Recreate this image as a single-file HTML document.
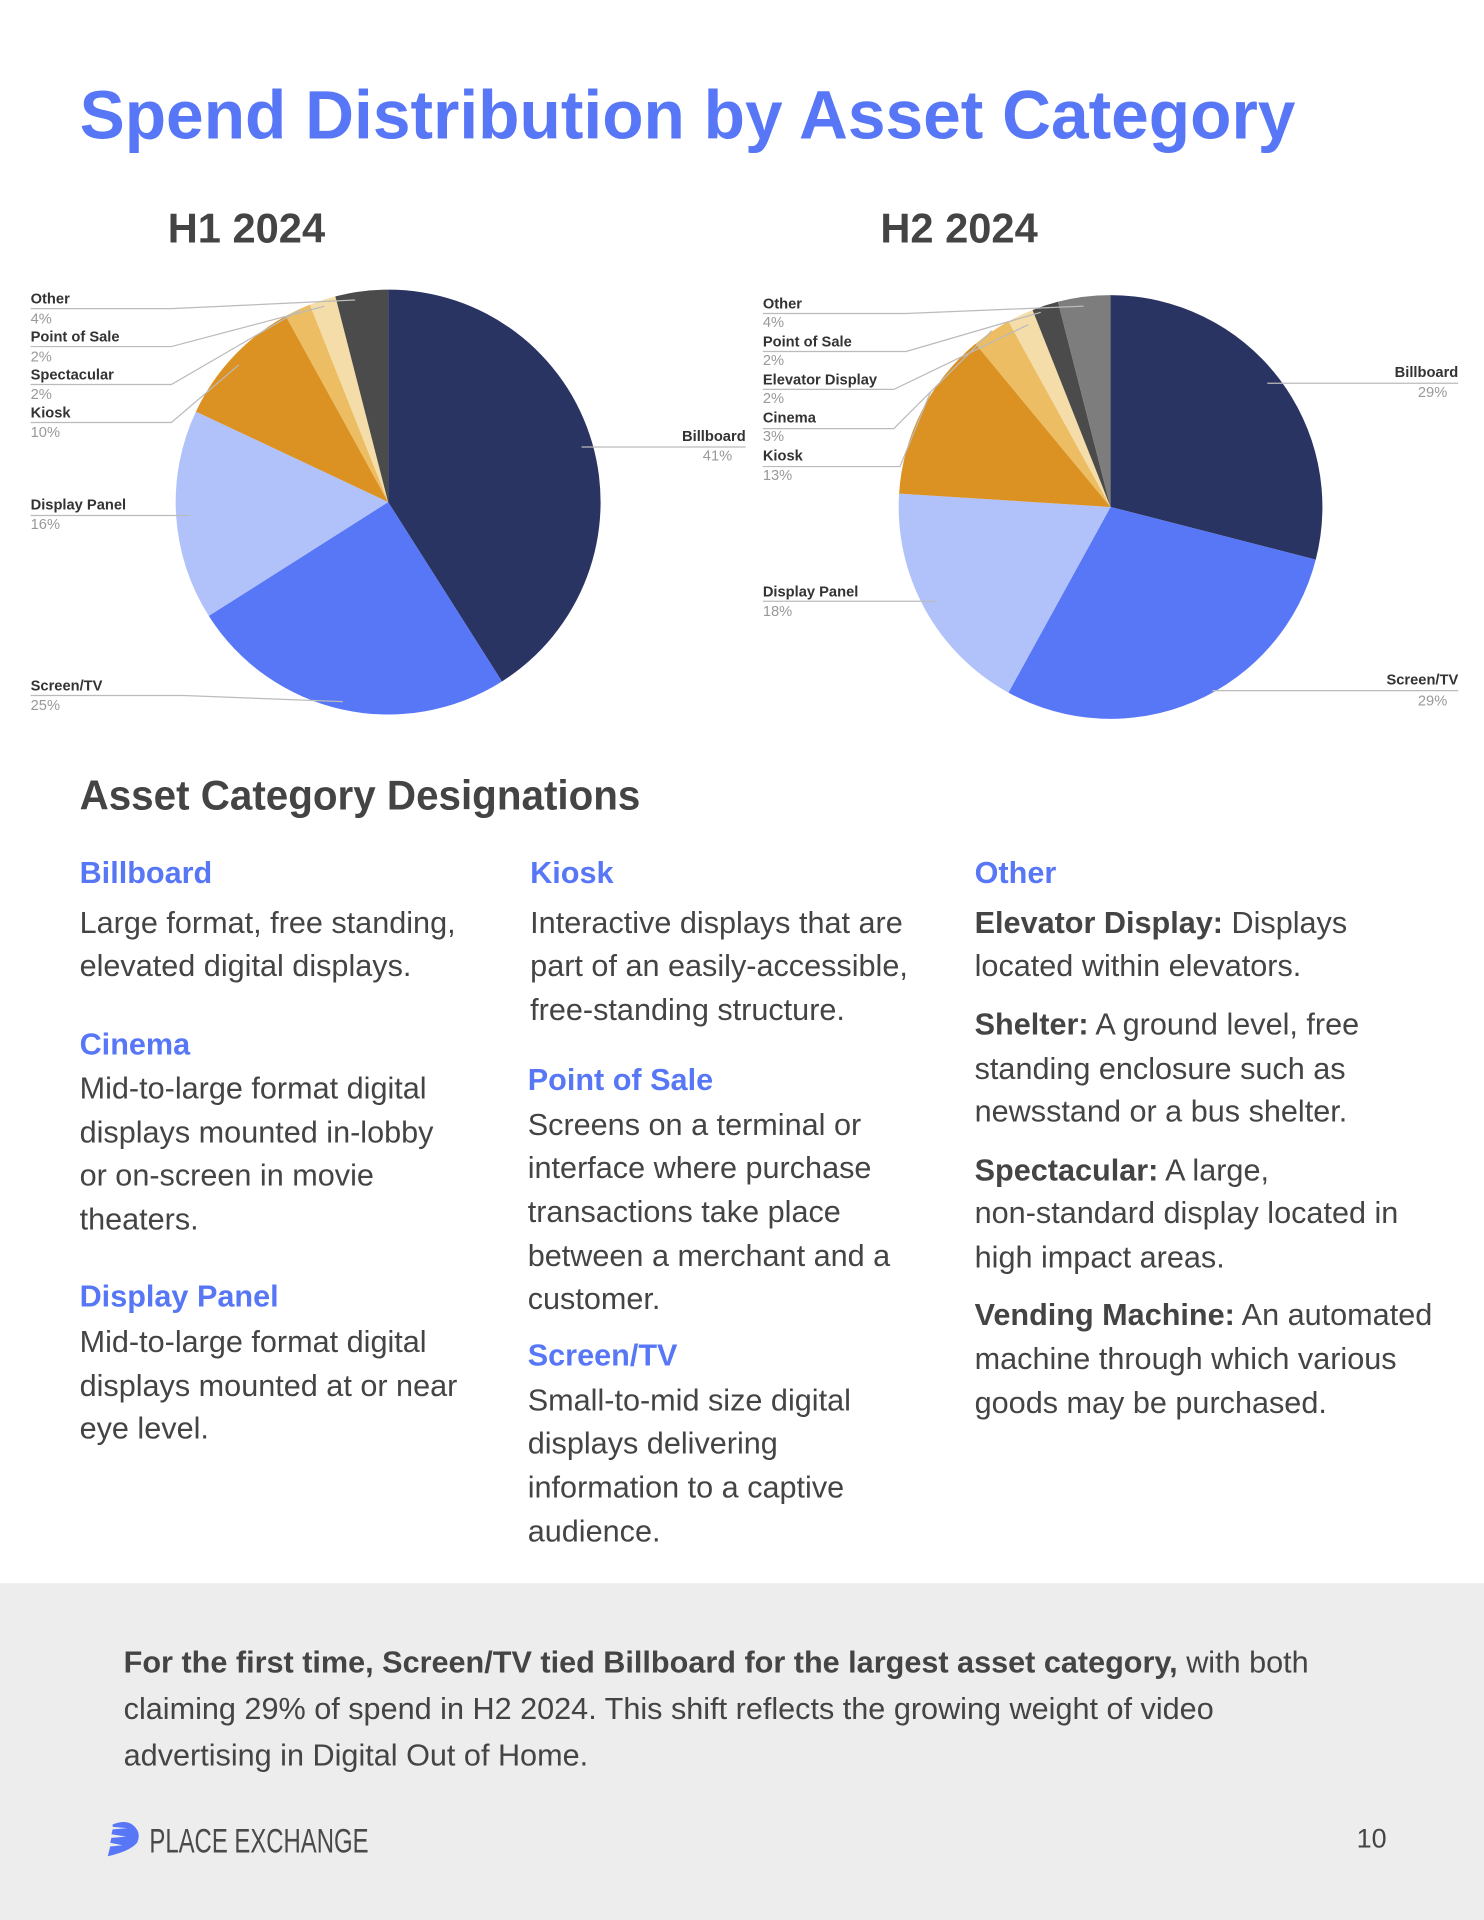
<!DOCTYPE html>
<html><head><meta charset="utf-8"><style>
html,body{margin:0;padding:0;background:#fff;}
svg{display:block;}
text{font-family:"Liberation Sans",sans-serif;}
.lb{font-size:12px;font-weight:bold;fill:#333;}
.pc{font-size:12px;fill:#999;}
.h{font-size:25px;font-weight:bold;fill:#5877F6;}
.b{font-size:25px;fill:#444;}
.bb{font-weight:bold;}
.ld{stroke:#bbb;stroke-width:1;fill:none;}
</style></head><body>
<svg width="1484" height="1920" viewBox="0 0 1212 1568" xmlns="http://www.w3.org/2000/svg">
<rect width="1212" height="1568" fill="#fff"/>
<text x="65" y="113" font-size="56" font-weight="bold" fill="#5877F6" textLength="993" lengthAdjust="spacingAndGlyphs">Spend Distribution by Asset Category</text>
<text x="137" y="198" font-size="34" font-weight="bold" fill="#444">H1 2024</text>
<text x="719" y="198" font-size="34" font-weight="bold" fill="#444">H2 2024</text>

<!-- H1 pie -->
<g>
<path d="M317 410 L317 236.5 A173.5 173.5 0 0 1 409.96 556.5 Z" fill="#293462"/>
<path d="M317 410 L409.96 556.5 A173.5 173.5 0 0 1 170.5 503 Z" fill="#5877F6"/>
<path d="M317 410 L170.5 503 A173.5 173.5 0 0 1 160 336.1 Z" fill="#B1C2FB"/>
<path d="M317 410 L160 336.1 A173.5 173.5 0 0 1 233.4 258 Z" fill="#DB9222"/>
<path d="M317 410 L233.4 258 A173.5 173.5 0 0 1 253.1 248.7 Z" fill="#ECBD63"/>
<path d="M317 410 L253.1 248.7 A173.5 173.5 0 0 1 273.9 242 Z" fill="#F5DDAA"/>
<path d="M317 410 L273.9 242 A173.5 173.5 0 0 1 317 236.5 Z" fill="#4B4B4B"/>
</g>
<path class="ld" d="M25 252 L140 252 L290 245"/>
<path class="ld" d="M25 283 L140 283 L265 250"/>
<path class="ld" d="M25 314 L140 314 L245 253"/>
<path class="ld" d="M25 345 L140 345 L195 298"/>
<path class="ld" d="M25 421 L155 421"/>
<path class="ld" d="M25 568 L150 568 L280 573"/>
<path class="ld" d="M475 365 L609 365"/>
<text class="lb" x="25" y="248">Other</text><text class="pc" x="25" y="264">4%</text>
<text class="lb" x="25" y="279">Point of Sale</text><text class="pc" x="25" y="295">2%</text>
<text class="lb" x="25" y="310">Spectacular</text><text class="pc" x="25" y="326">2%</text>
<text class="lb" x="25" y="341">Kiosk</text><text class="pc" x="25" y="357">10%</text>
<text class="lb" x="25" y="416">Display Panel</text><text class="pc" x="25" y="432">16%</text>
<text class="lb" x="25" y="564">Screen/TV</text><text class="pc" x="25" y="580">25%</text>
<text class="lb" x="609" y="360" text-anchor="end">Billboard</text><text class="pc" x="598" y="376" text-anchor="end">41%</text>

<!-- H2 pie -->
<g>
<path d="M907 414 L907 241 A173 173 0 0 1 1074.6 457 Z" fill="#293462"/>
<path d="M907 414 L1074.6 457 A173 173 0 0 1 823.6 565.6 Z" fill="#5877F6"/>
<path d="M907 414 L823.6 565.6 A173 173 0 0 1 734.3 403.1 Z" fill="#B1C2FB"/>
<path d="M907 414 L734.3 403.1 A173 173 0 0 1 796.7 280.7 Z" fill="#DB9222"/>
<path d="M907 414 L796.7 280.7 A173 173 0 0 1 823.6 262.4 Z" fill="#ECBD63"/>
<path d="M907 414 L823.6 262.4 A173 173 0 0 1 843.3 253.1 Z" fill="#F5DDAA"/>
<path d="M907 414 L843.3 253.1 A173 173 0 0 1 864 246.4 Z" fill="#4B4B4B"/>
<path d="M907 414 L864 246.4 A173 173 0 0 1 907 241 Z" fill="#7D7D7D"/>
</g>
<path class="ld" d="M623 256 L740 256 L885 250"/>
<path class="ld" d="M623 287 L740 287 L850 255"/>
<path class="ld" d="M623 318 L730 318 L840 265"/>
<path class="ld" d="M623 350 L730 350 L810 270"/>
<path class="ld" d="M623 381 L735 381 L760 320"/>
<path class="ld" d="M623 491 L765 491"/>
<path class="ld" d="M1035 313 L1191 313"/>
<path class="ld" d="M990 564 L1191 564"/>
<text class="lb" x="623" y="252">Other</text><text class="pc" x="623" y="267">4%</text>
<text class="lb" x="623" y="283">Point of Sale</text><text class="pc" x="623" y="298">2%</text>
<text class="lb" x="623" y="314">Elevator Display</text><text class="pc" x="623" y="329">2%</text>
<text class="lb" x="623" y="345">Cinema</text><text class="pc" x="623" y="360">3%</text>
<text class="lb" x="623" y="376">Kiosk</text><text class="pc" x="623" y="392">13%</text>
<text class="lb" x="623" y="487">Display Panel</text><text class="pc" x="623" y="503">18%</text>
<text class="lb" x="1191" y="308" text-anchor="end">Billboard</text><text class="pc" x="1182" y="324" text-anchor="end">29%</text>
<text class="lb" x="1191" y="559" text-anchor="end">Screen/TV</text><text class="pc" x="1182" y="576" text-anchor="end">29%</text>

<text x="65" y="661" font-size="34" font-weight="bold" fill="#444" textLength="458" lengthAdjust="spacingAndGlyphs">Asset Category Designations</text>

<!-- column 1 -->
<text class="h" x="65" y="721">Billboard</text>
<text class="b" x="65" y="762">Large format, free standing,</text>
<text class="b" x="65" y="797">elevated digital displays.</text>
<text class="h" x="65" y="861">Cinema</text>
<text class="b" x="65" y="897">Mid-to-large format digital</text>
<text class="b" x="65" y="933">displays mounted in-lobby</text>
<text class="b" x="65" y="968">or on-screen in movie</text>
<text class="b" x="65" y="1004">theaters.</text>
<text class="h" x="65" y="1067">Display Panel</text>
<text class="b" x="65" y="1104">Mid-to-large format digital</text>
<text class="b" x="65" y="1140">displays mounted at or near</text>
<text class="b" x="65" y="1175">eye level.</text>

<!-- column 2 -->
<text class="h" x="433" y="721">Kiosk</text>
<text class="b" x="433" y="762">Interactive displays that are</text>
<text class="b" x="433" y="797">part of an easily-accessible,</text>
<text class="b" x="433" y="833">free-standing structure.</text>
<text class="h" x="431" y="890">Point of Sale</text>
<text class="b" x="431" y="927">Screens on a terminal or</text>
<text class="b" x="431" y="962">interface where purchase</text>
<text class="b" x="431" y="998">transactions take place</text>
<text class="b" x="431" y="1034">between a merchant and a</text>
<text class="b" x="431" y="1069">customer.</text>
<text class="h" x="431" y="1115">Screen/TV</text>
<text class="b" x="431" y="1152">Small-to-mid size digital</text>
<text class="b" x="431" y="1187">displays delivering</text>
<text class="b" x="431" y="1223">information to a captive</text>
<text class="b" x="431" y="1259">audience.</text>

<!-- column 3 -->
<text class="h" x="796" y="721">Other</text>
<text class="b" x="796" y="762"><tspan class="bb">Elevator Display:</tspan> Displays</text>
<text class="b" x="796" y="797">located within elevators.</text>
<text class="b" x="796" y="845"><tspan class="bb">Shelter:</tspan> A ground level, free</text>
<text class="b" x="796" y="881">standing enclosure such as</text>
<text class="b" x="796" y="916">newsstand or a bus shelter.</text>
<text class="b" x="796" y="964"><tspan class="bb">Spectacular:</tspan> A large,</text>
<text class="b" x="796" y="999">non-standard display located in</text>
<text class="b" x="796" y="1035">high impact areas.</text>
<text class="b" x="796" y="1082"><tspan class="bb">Vending Machine:</tspan> An automated</text>
<text class="b" x="796" y="1118">machine through which various</text>
<text class="b" x="796" y="1154">goods may be purchased.</text>

<!-- footer -->
<rect x="0" y="1293" width="1212" height="275" fill="#EDEDED"/>
<text class="b" x="101" y="1366"><tspan class="bb">For the first time, Screen/TV tied Billboard for the largest asset category,</tspan> with both</text>
<text class="b" x="101" y="1404">claiming 29% of spend in H2 2024. This shift reflects the growing weight of video</text>
<text class="b" x="101" y="1442">advertising in Digital Out of Home.</text>
<g fill="#5877F6">
<path d="M92 1490 Q102 1486 108 1490 Q116 1496 112 1505 Q106 1512 88 1516 L90 1508 L100 1507 L90 1505 L91 1501 L103 1500 L91 1498 L92 1494 L104 1493 L92 1492 Z"/>
</g>
<text x="122" y="1513" font-size="28" fill="#4a4a4a" textLength="179" lengthAdjust="spacingAndGlyphs">PLACE EXCHANGE</text>
<text x="1108" y="1509" font-size="22" fill="#444">10</text>
</svg>
</body></html>
